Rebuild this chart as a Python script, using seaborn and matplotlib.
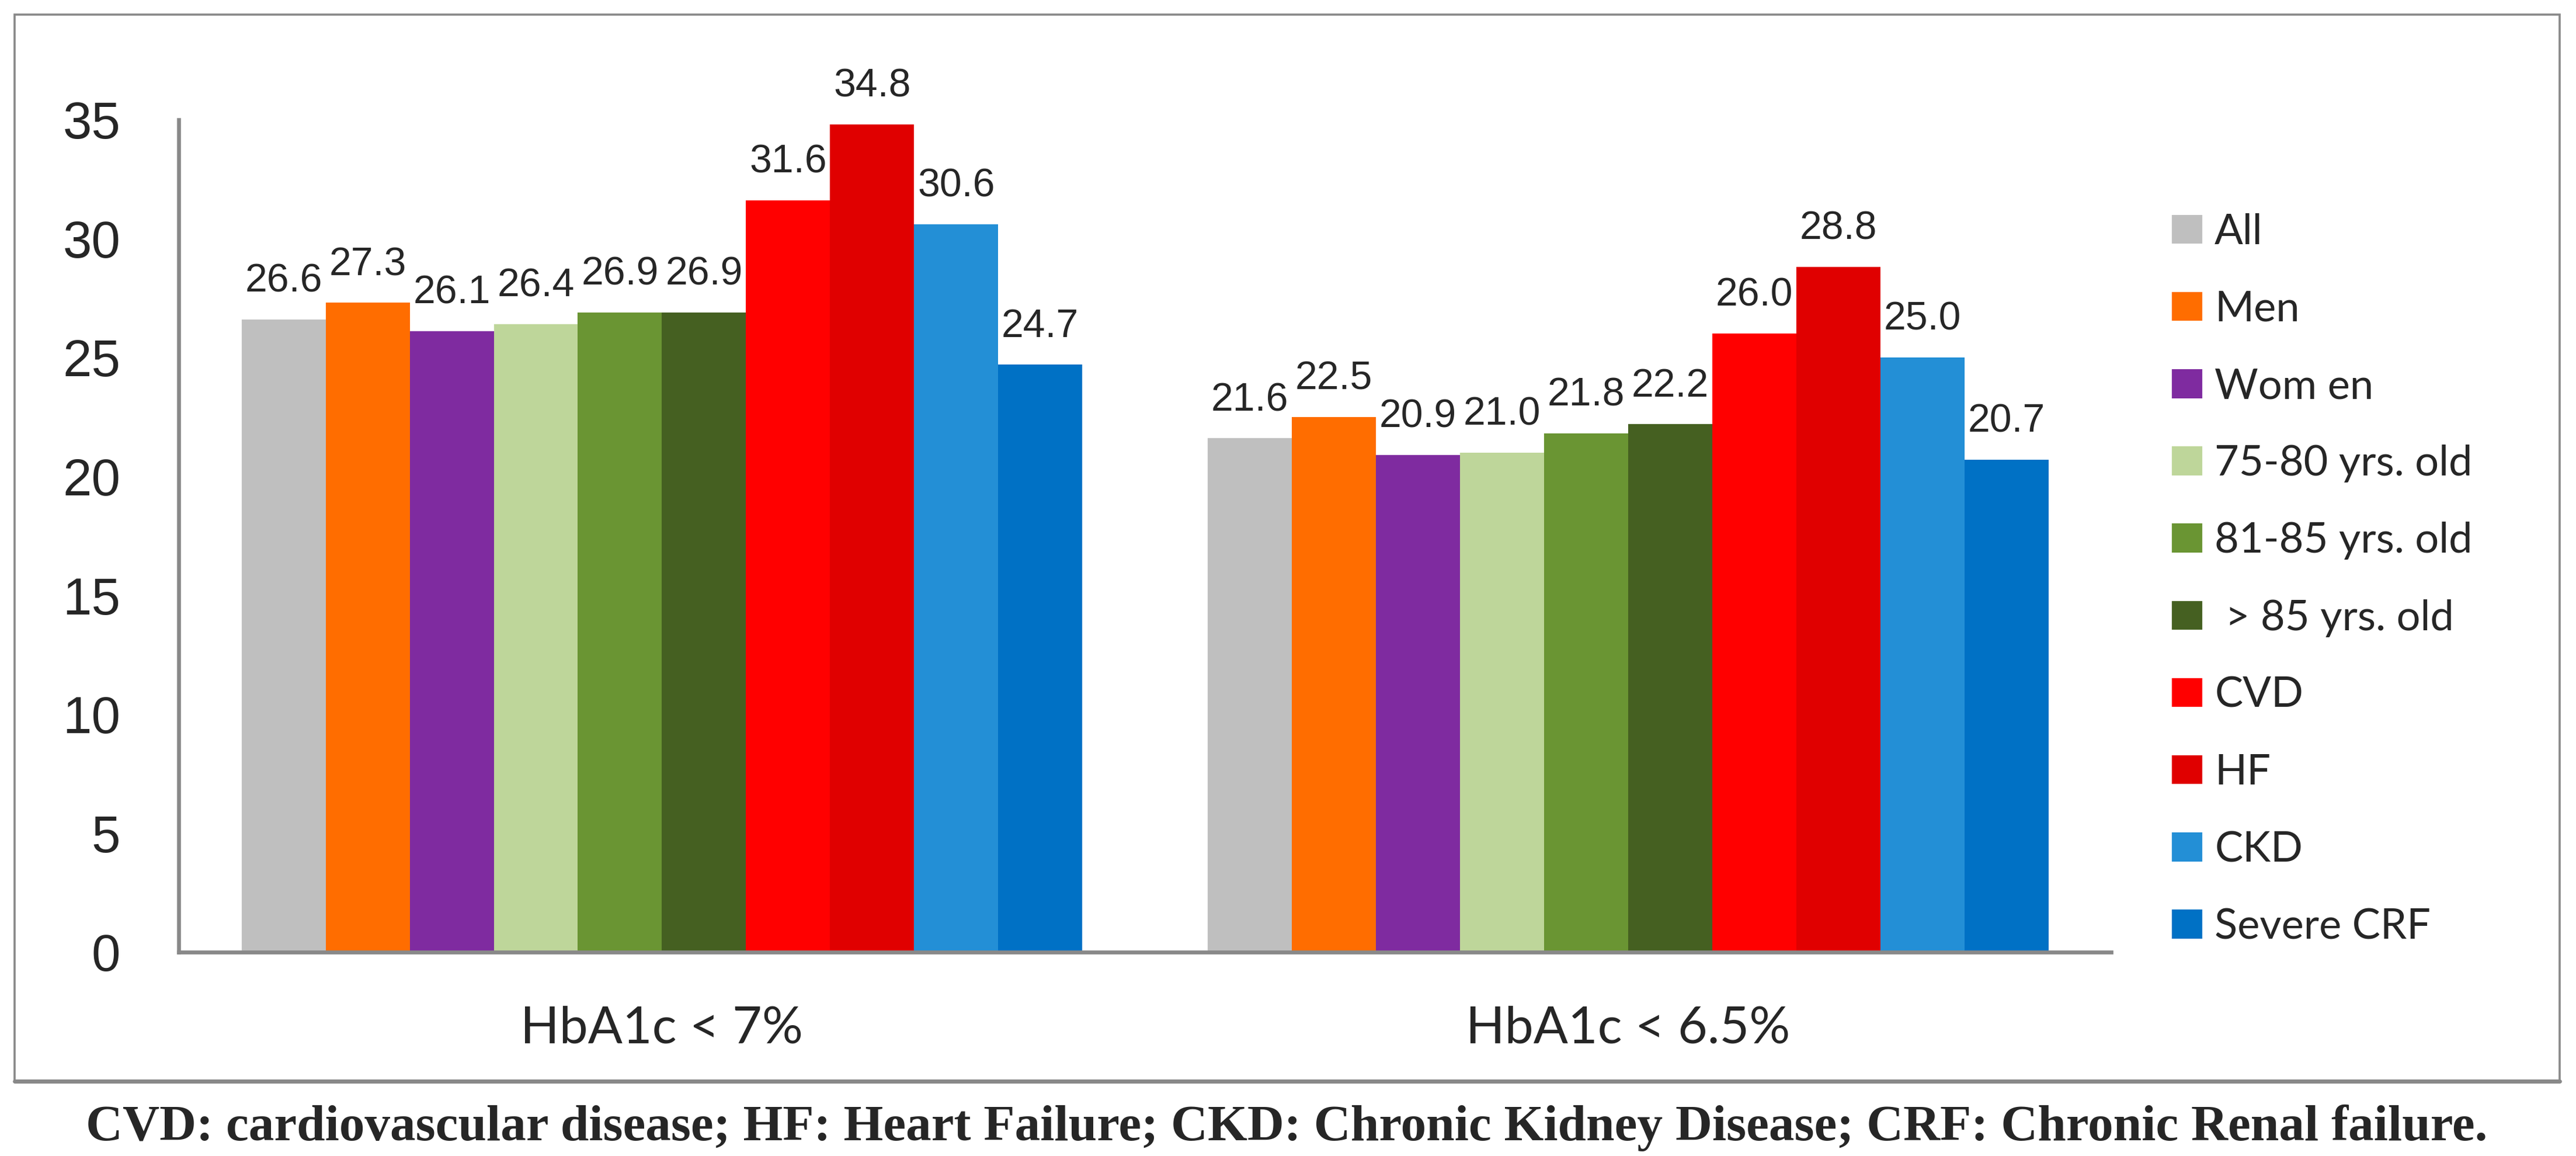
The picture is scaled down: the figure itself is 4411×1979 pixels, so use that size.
"""
HbA1c target achievement by patient subgroup.
"""

import matplotlib.pyplot as plt
import pandas as pd
import seaborn as sns
from matplotlib import font_manager
from matplotlib.patches import Rectangle
from matplotlib.lines import Line2D

# Data
targets = ["HbA1c < 7%", "HbA1c < 6.5%"]
subgroups = [
    "All",
    "Men",
    "Wom en",
    "75-80 yrs. old",
    "81-85 yrs. old",
    " > 85 yrs. old",
    "CVD",
    "HF",
    "CKD",
    "Severe CRF",
]
below_7 = [26.6, 27.3, 26.1, 26.4, 26.9, 26.9, 31.6, 34.8, 30.6, 24.7]
below_65 = [21.6, 22.5, 20.9, 21.0, 21.8, 22.2, 26.0, 28.8, 25.0, 20.7]
colors = [
    "#BFBFBF",
    "#FF6D00",
    "#7F2BA0",
    "#BED69A",
    "#6A9533",
    "#456021",
    "#FF0000",
    "#E00000",
    "#238FD6",
    "#0071C5",
]
yticks = [0, 5, 10, 15, 20, 25, 30, 35]
caption = (
    "CVD: cardiovascular disease; HF: Heart Failure; "
    "CKD: Chronic Kidney Disease; CRF: Chronic Renal failure."
)

df = pd.DataFrame(
    {
        "target": [targets[0]] * len(subgroups) + [targets[1]] * len(subgroups),
        "subgroup": subgroups * 2,
        "value": below_7 + below_65,
    }
)

sns.set_theme(style="white")
plt.rcParams["font.family"] = ["Liberation Sans", "DejaVu Sans"]

# value labels are in a narrow face; fall back to regular width if missing
installed = {f.name for f in font_manager.fontManager.ttflist}
if "Liberation Sans Narrow" in installed:
    label_family, label_size = "Liberation Sans Narrow", 29
else:
    label_family, label_size = "Liberation Sans", 24.5

grey = "#898989"

fig = plt.figure(figsize=(22.055, 9.895), dpi=200)
ax = fig.add_axes([0.0694, 0.1764, 0.7502, 0.7201])

sns.barplot(
    data=df,
    x="target",
    y="value",
    hue="subgroup",
    hue_order=subgroups,
    palette=colors,
    saturation=1,
    width=0.87,
    gap=0,
    errorbar=None,
    linewidth=0,
    ax=ax,
)

for container in ax.containers:
    ax.bar_label(
        container,
        fmt="%.1f",
        padding=12,
        fontsize=label_size,
        family=[label_family, "DejaVu Sans"],
        clip_on=False,
    )

ax.set_ylim(0, 35)
ax.set_xlim(-0.5, 1.5)
ax.set_yticks(yticks)
ax.set_xlabel("")
ax.set_ylabel("")
ax.tick_params(axis="y", length=0, pad=36, labelsize=32)
ax.tick_params(axis="x", length=0, pad=33, labelsize=31.5)
for lab in ax.get_xticklabels():
    lab.set_family(["Lato", "DejaVu Sans"])

sns.despine(ax=ax, top=True, right=True)
for side in ["left", "bottom"]:
    ax.spines[side].set_color(grey)
    ax.spines[side].set_linewidth(2.4)

# Legend on the right, outside the axes
handles, labels = ax.get_legend_handles_labels()
ax.legend(
    handles,
    labels,
    loc="center left",
    bbox_to_anchor=(0.835, 0.4987),
    bbox_transform=fig.transFigure,
    frameon=False,
    prop={"family": ["Lato", "DejaVu Sans"], "size": 26},
    borderpad=0,
    handlelength=0.71,
    handleheight=0.68,
    handletextpad=0.3,
    labelspacing=0.93,
)

# Outer frame around the chart
fig.patches.append(
    Rectangle(
        (0.00567, 0.0647),
        0.98798,
        0.92267,
        transform=fig.transFigure,
        fill=False,
        edgecolor=grey,
        linewidth=1.3,
    )
)
fig.lines.append(
    Line2D(
        [0.00567, 0.99365],
        [0.0647, 0.0647],
        transform=fig.transFigure,
        color=grey,
        linewidth=2.5,
    )
)

fig.text(
    0.4995,
    0.0136,
    caption,
    ha="center",
    va="baseline",
    fontsize=31.4,
    fontweight="bold",
    family=["Liberation Serif", "DejaVu Serif"],
)

fig.savefig("out.png", dpi=200, facecolor="white")
